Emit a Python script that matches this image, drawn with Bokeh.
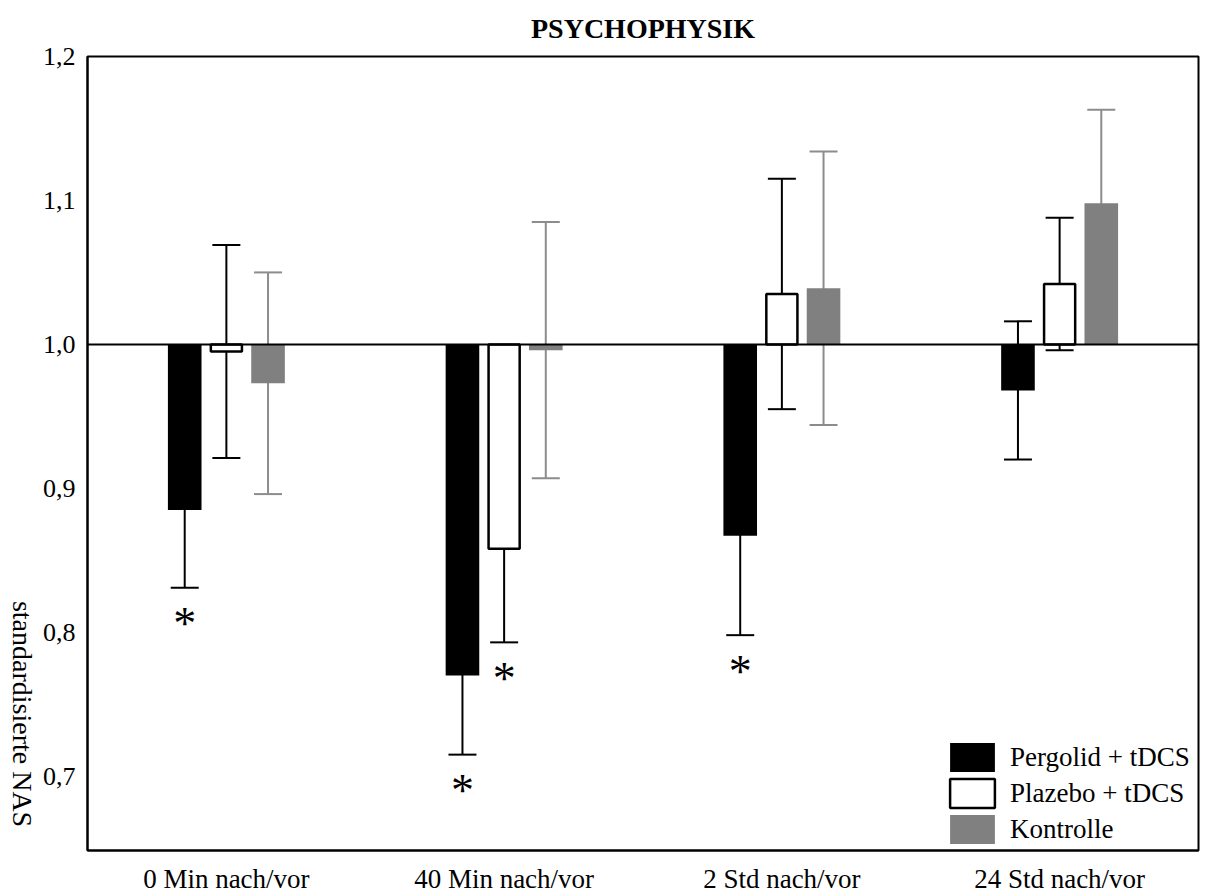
from bokeh.plotting import figure
from bokeh.layouts import row
from bokeh.models import (ColumnDataSource, FactorRange, Range1d, Whisker, TeeHead,
                          Span, FixedTicker, CustomJSTickFormatter, Legend, LegendItem, Title)
from bokeh.transform import dodge
from bokeh.core.properties import value
from bokeh.embed import file_html
from bokeh.resources import INLINE
import math

# ---------------- data ----------------
categories = ["0 Min nach/vor", "40 Min nach/vor", "2 Std nach/vor", "24 Std nach/vor"]
series_names = ["Pergolid + tDCS", "Plazebo + tDCS", "Kontrolle"]

pergolid_mean = [0.885, 0.770, 0.867, 0.968]
pergolid_se = [0.054, 0.055, 0.069, 0.048]
pergolid_sig = [True, True, True, False]

plazebo_mean = [0.995, 0.858, 1.035, 1.042]
plazebo_se = [0.074, 0.065, 0.080, 0.046]
plazebo_sig = [False, True, False, False]

kontrolle_mean = [0.973, 0.996, 1.039, 1.098]
kontrolle_se = [0.077, 0.089, 0.095, 0.065]
kontrolle_sig = [False, False, False, False]

y_ticks = [0.7, 0.8, 0.9, 1.0, 1.1, 1.2]
baseline = 1.0
title_text = "PSYCHOPHYSIK"
y_title = "standardisierte NAS"

FONT = "Liberation Serif"
TOTAL_W, TOTAL_H = 1212, 896
LEFT_W = 38

# ---------------- y-axis title strip ----------------
side = figure(width=LEFT_W, height=TOTAL_H, output_backend="svg", toolbar_location=None,
              x_range=Range1d(0, LEFT_W), y_range=Range1d(0, TOTAL_H),
              x_axis_type=None, y_axis_type=None,
              min_border_left=0, min_border_right=0, min_border_top=0, min_border_bottom=0,
              outline_line_color=None, background_fill_color="white", border_fill_color="white")
side.xgrid.visible = False
side.ygrid.visible = False
side.text(x=[22], y=[154], text=[y_title], angle=-math.pi / 2,
          text_font=value(FONT), text_font_size="28px", text_color="black",
          text_align="center", text_baseline="alphabetic")

# ---------------- main chart ----------------
p = figure(x_range=FactorRange(*categories), y_range=Range1d(0.6484, 1.2),
           width=TOTAL_W - LEFT_W, height=TOTAL_H, output_backend="svg", toolbar_location=None,
           min_border_left=87 - LEFT_W, min_border_right=14, min_border_top=56, min_border_bottom=43,
           background_fill_color="white", border_fill_color="white")

p.title = Title(text=title_text, align="center", vertical_align="top", text_font=FONT,
                text_font_style="bold", text_font_size="28px", text_color="black", standoff=22)

p.xgrid.visible = False
p.ygrid.visible = False
p.outline_line_color = "black"
p.outline_line_width = 2

for ax in (p.xaxis, p.yaxis):
    ax.major_tick_out = 0
    ax.major_tick_in = 0
    ax.minor_tick_out = 0
    ax.minor_tick_in = 0
    ax.axis_line_width = 2
    ax.axis_line_color = "black"
    ax.major_label_text_font = FONT
    ax.major_label_text_font_size = "26px"
    ax.major_label_text_color = "black"

p.xaxis.major_label_text_font_size = "27px"
p.xaxis.major_label_standoff = 13
p.yaxis.major_label_standoff = 12
p.yaxis.ticker = FixedTicker(ticks=y_ticks)
p.yaxis.formatter = CustomJSTickFormatter(code="return tick.toFixed(1).replace('.', ',');")

p.add_layout(Span(location=baseline, dimension="width", line_color="black", line_width=2))

series = [
    (series_names[0], pergolid_mean, pergolid_se, pergolid_sig, -0.15, 0.121,
     dict(fill_color="black", line_color=None), "black"),
    (series_names[1], plazebo_mean, plazebo_se, plazebo_sig, 0.0, 0.112,
     dict(fill_color="white", line_color="black", line_width=2.5), "black"),
    (series_names[2], kontrolle_mean, kontrolle_se, kontrolle_sig, 0.15, 0.121,
     dict(fill_color="#808080", line_color=None), "#8c8c8c"),
]

items = []
for name, means, ses, sig, off, w, style, wcol in series:
    src = ColumnDataSource(dict(
        cat=categories, mean=means,
        upper=[m + s for m, s in zip(means, ses)],
        lower=[m - s for m, s in zip(means, ses)],
    ))
    r = p.vbar(x=dodge("cat", off, range=p.x_range), top="mean", bottom=baseline,
               width=w, source=src, **style)
    items.append(LegendItem(label=name, renderers=[r]))
    wh = Whisker(base=dodge("cat", off, range=p.x_range), upper="upper", lower="lower",
                 source=src, dimension="height", line_color=wcol, line_width=2,
                 upper_head=TeeHead(size=28, line_color=wcol, line_width=2),
                 lower_head=TeeHead(size=28, line_color=wcol, line_width=2))
    p.add_layout(wh)
    sc = [c for c, g in zip(categories, sig) if g]
    sy = [m - s - 0.025 for m, s, g in zip(means, ses, sig) if g]
    if sc:
        ssrc = ColumnDataSource(dict(cat=sc, y=sy, t=["*"] * len(sc)))
        p.text(x=dodge("cat", off, range=p.x_range), y="y", text="t", source=ssrc,
               text_font=value(FONT), text_font_size="46px", text_color="black",
               text_align="center", text_baseline="alphabetic")

legend = Legend(items=items, location=(857, 3), margin=0, padding=8, spacing=0,
                glyph_width=56, glyph_height=36, label_standoff=10, label_height=30,
                label_text_font=FONT, label_text_font_size="27px", label_text_color="black",
                border_line_color=None, background_fill_alpha=0)
p.add_layout(legend)

layout = row(side, p, spacing=0)
open("out.html", "w").write(file_html(layout, INLINE))
